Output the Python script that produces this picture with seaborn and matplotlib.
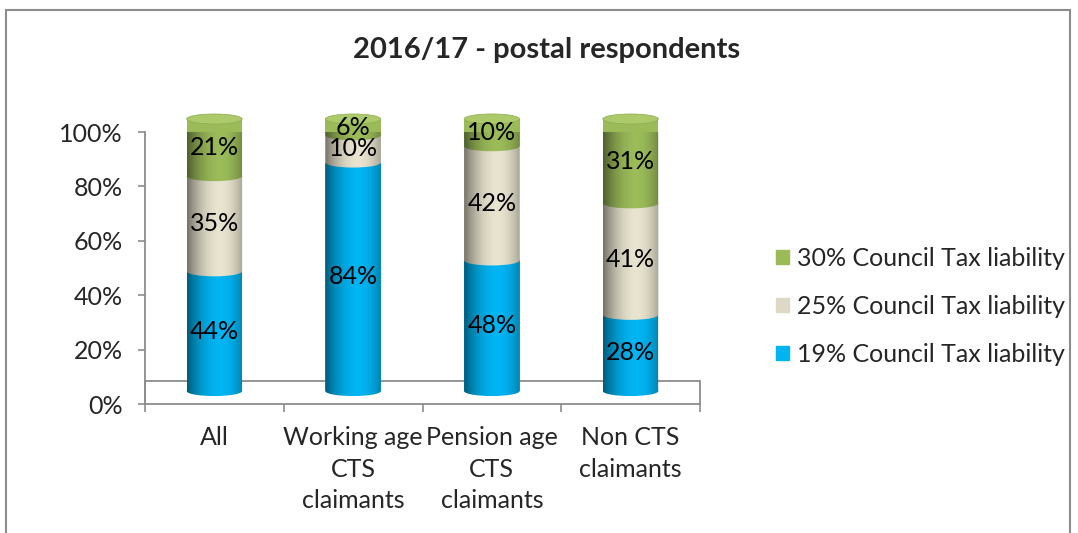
import numpy as np
import pandas as pd
import seaborn as sns
import matplotlib.pyplot as plt
import matplotlib.transforms as mtransforms
from matplotlib.patches import Ellipse, Rectangle, Patch
from matplotlib.path import Path

# chart data
categories = ["All", "Working age\nCTS\nclaimants", "Pension age\nCTS\nclaimants", "Non CTS\nclaimants"]
liability_19 = [44, 84, 48, 28]
liability_25 = [35, 10, 42, 41]
liability_30 = [21, 6, 10, 31]
series_names = ["19% Council Tax liability", "25% Council Tax liability", "30% Council Tax liability"]
y_ticks = [0, 20, 40, 60, 80, 100]
title = "2016/17 - postal respondents"

blue = "#00B4F2"
beige = "#E8E3CE"
green = "#9BBB59"
cap_green = "#ADCA6A"
grey = "#8C8C8C"

sns.set_theme(style="white")
plt.rcParams["font.family"] = ["Lato", "DejaVu Sans"]

df = pd.DataFrame({"category": categories, "s19": liability_19,
                   "s25": liability_25, "s30": liability_30})
df["c19"] = df["s19"]
df["c25"] = df["c19"] + df["s25"]
df["c30"] = df["c25"] + df["s30"]

fig = plt.figure(figsize=(10.78, 5.33), dpi=100)
ax = fig.add_axes([145 / 1078, 1 - 404 / 533, 555 / 1078, 272 / 533])

bw = 0.4
for col, colr in [("c30", green), ("c25", beige), ("c19", blue)]:
    sns.barplot(data=df, x="category", y=col, color=colr, width=bw, saturation=1,
                errorbar=None, linewidth=0, zorder=3, ax=ax)

# 3d look: cylinders sit a bit above the floor front edge
trans = ax.transData + mtransforms.ScaledTranslation(0, 0.13, fig.dpi_scale_trans)
for p in ax.patches:
    p.set_transform(trans)
    p.set_clip_on(False)

eh = 3.7  # ellipse height in data units
u = np.linspace(0, 1, 200)
alpha = np.where(u < 0.6, 0.5 * (1 - u / 0.6) ** 2, 0.28 * ((u - 0.6) / 0.4) ** 2)
shade = np.zeros((1, len(u), 4))
shade[0, :, 3] = alpha

for i in range(len(categories)):
    tops = [df["c19"][i], df["c25"][i], df["c30"][i]]
    bottoms = [0, df["c19"][i], df["c25"][i]]
    for b, colr in zip(bottoms, [blue, beige, green]):
        e = Ellipse((i, b), bw, eh, facecolor=colr, edgecolor="none", zorder=4,
                    transform=trans, clip_on=False)
        ax.add_patch(e)
    cap = Ellipse((i, tops[-1]), bw, eh, facecolor=cap_green, edgecolor="#8FAA52",
                  linewidth=0.5, zorder=6, transform=trans, clip_on=False)
    ax.add_patch(cap)

    # cylinder outline used to clip the shading
    t1 = np.linspace(np.pi, 2 * np.pi, 40)
    t2 = np.linspace(0, np.pi, 40)
    xs = np.concatenate([i + bw / 2 * np.cos(t1), i + bw / 2 * np.cos(t2)])
    ys = np.concatenate([eh / 2 * np.sin(t1), tops[-1] + eh / 2 * np.sin(t2)])
    verts = np.column_stack([xs, ys])
    outline = Path(np.vstack([verts, verts[:1]]),
                   [Path.MOVETO] + [Path.LINETO] * (len(verts) - 1) + [Path.CLOSEPOLY])
    im = ax.imshow(shade, extent=(i - bw / 2, i + bw / 2, -eh, tops[-1] + eh),
                   aspect="auto", interpolation="bilinear", zorder=5, transform=trans)
    im.set_clip_path(outline, trans)

    for b, v in zip(bottoms, [liability_19[i], liability_25[i], liability_30[i]]):
        ax.text(i, b + v / 2, f"{v}%", transform=trans, ha="center", va="center",
                fontsize=18, color="black", zorder=8)

# floor
ax.add_patch(Rectangle((-0.5, 0), 4, 8.5, fill=False, edgecolor=grey, linewidth=1.3,
                       zorder=1, clip_on=False))

ax.set_xlim(-0.5, 3.5)
ax.set_ylim(0, 100)
ax.set_xlabel("")
ax.set_ylabel("")
ax.set_yticks(y_ticks)
ax.set_yticklabels([f"{t}%" for t in y_ticks], fontsize=18)
ax.set_xticks(range(len(categories)))
ax.set_xticklabels(categories, fontsize=18)
for lbl in ax.get_xticklabels():
    lbl.set_linespacing(1.45)
ax.set_xticks([-0.5, 0.5, 1.5, 2.5, 3.5], minor=True)
ax.tick_params(axis="x", which="major", length=0, pad=16)
ax.tick_params(axis="x", which="minor", bottom=True, length=6, width=1.2, color=grey)
ax.tick_params(axis="y", left=True, length=5, width=1.2, color=grey, pad=11)
for s in ["top", "right", "bottom"]:
    ax.spines[s].set_visible(False)
ax.spines["left"].set_color(grey)
ax.spines["left"].set_linewidth(1.3)

fig.text(547 / 1078, 1 - 50 / 533, title, ha="center", va="center",
         fontsize=21, fontweight="bold")

handles = [Patch(color=green), Patch(color="#DDD9C4"), Patch(color=blue)]
fig.legend(handles, series_names[::-1], loc="center left",
           bbox_to_anchor=(776 / 1078, 1 - 306 / 533), frameon=False, fontsize=18,
           handlelength=0.5, handleheight=0.5, handletextpad=0.35, labelspacing=1.0,
           borderaxespad=0, borderpad=0)

fig.patches.append(Rectangle((6 / 1078, -0.05), 1064 / 1078, 1.05 - 10 / 533,
                             transform=fig.transFigure, fill=False,
                             edgecolor=grey, linewidth=1.5))

fig.savefig("out.png", dpi=100)
